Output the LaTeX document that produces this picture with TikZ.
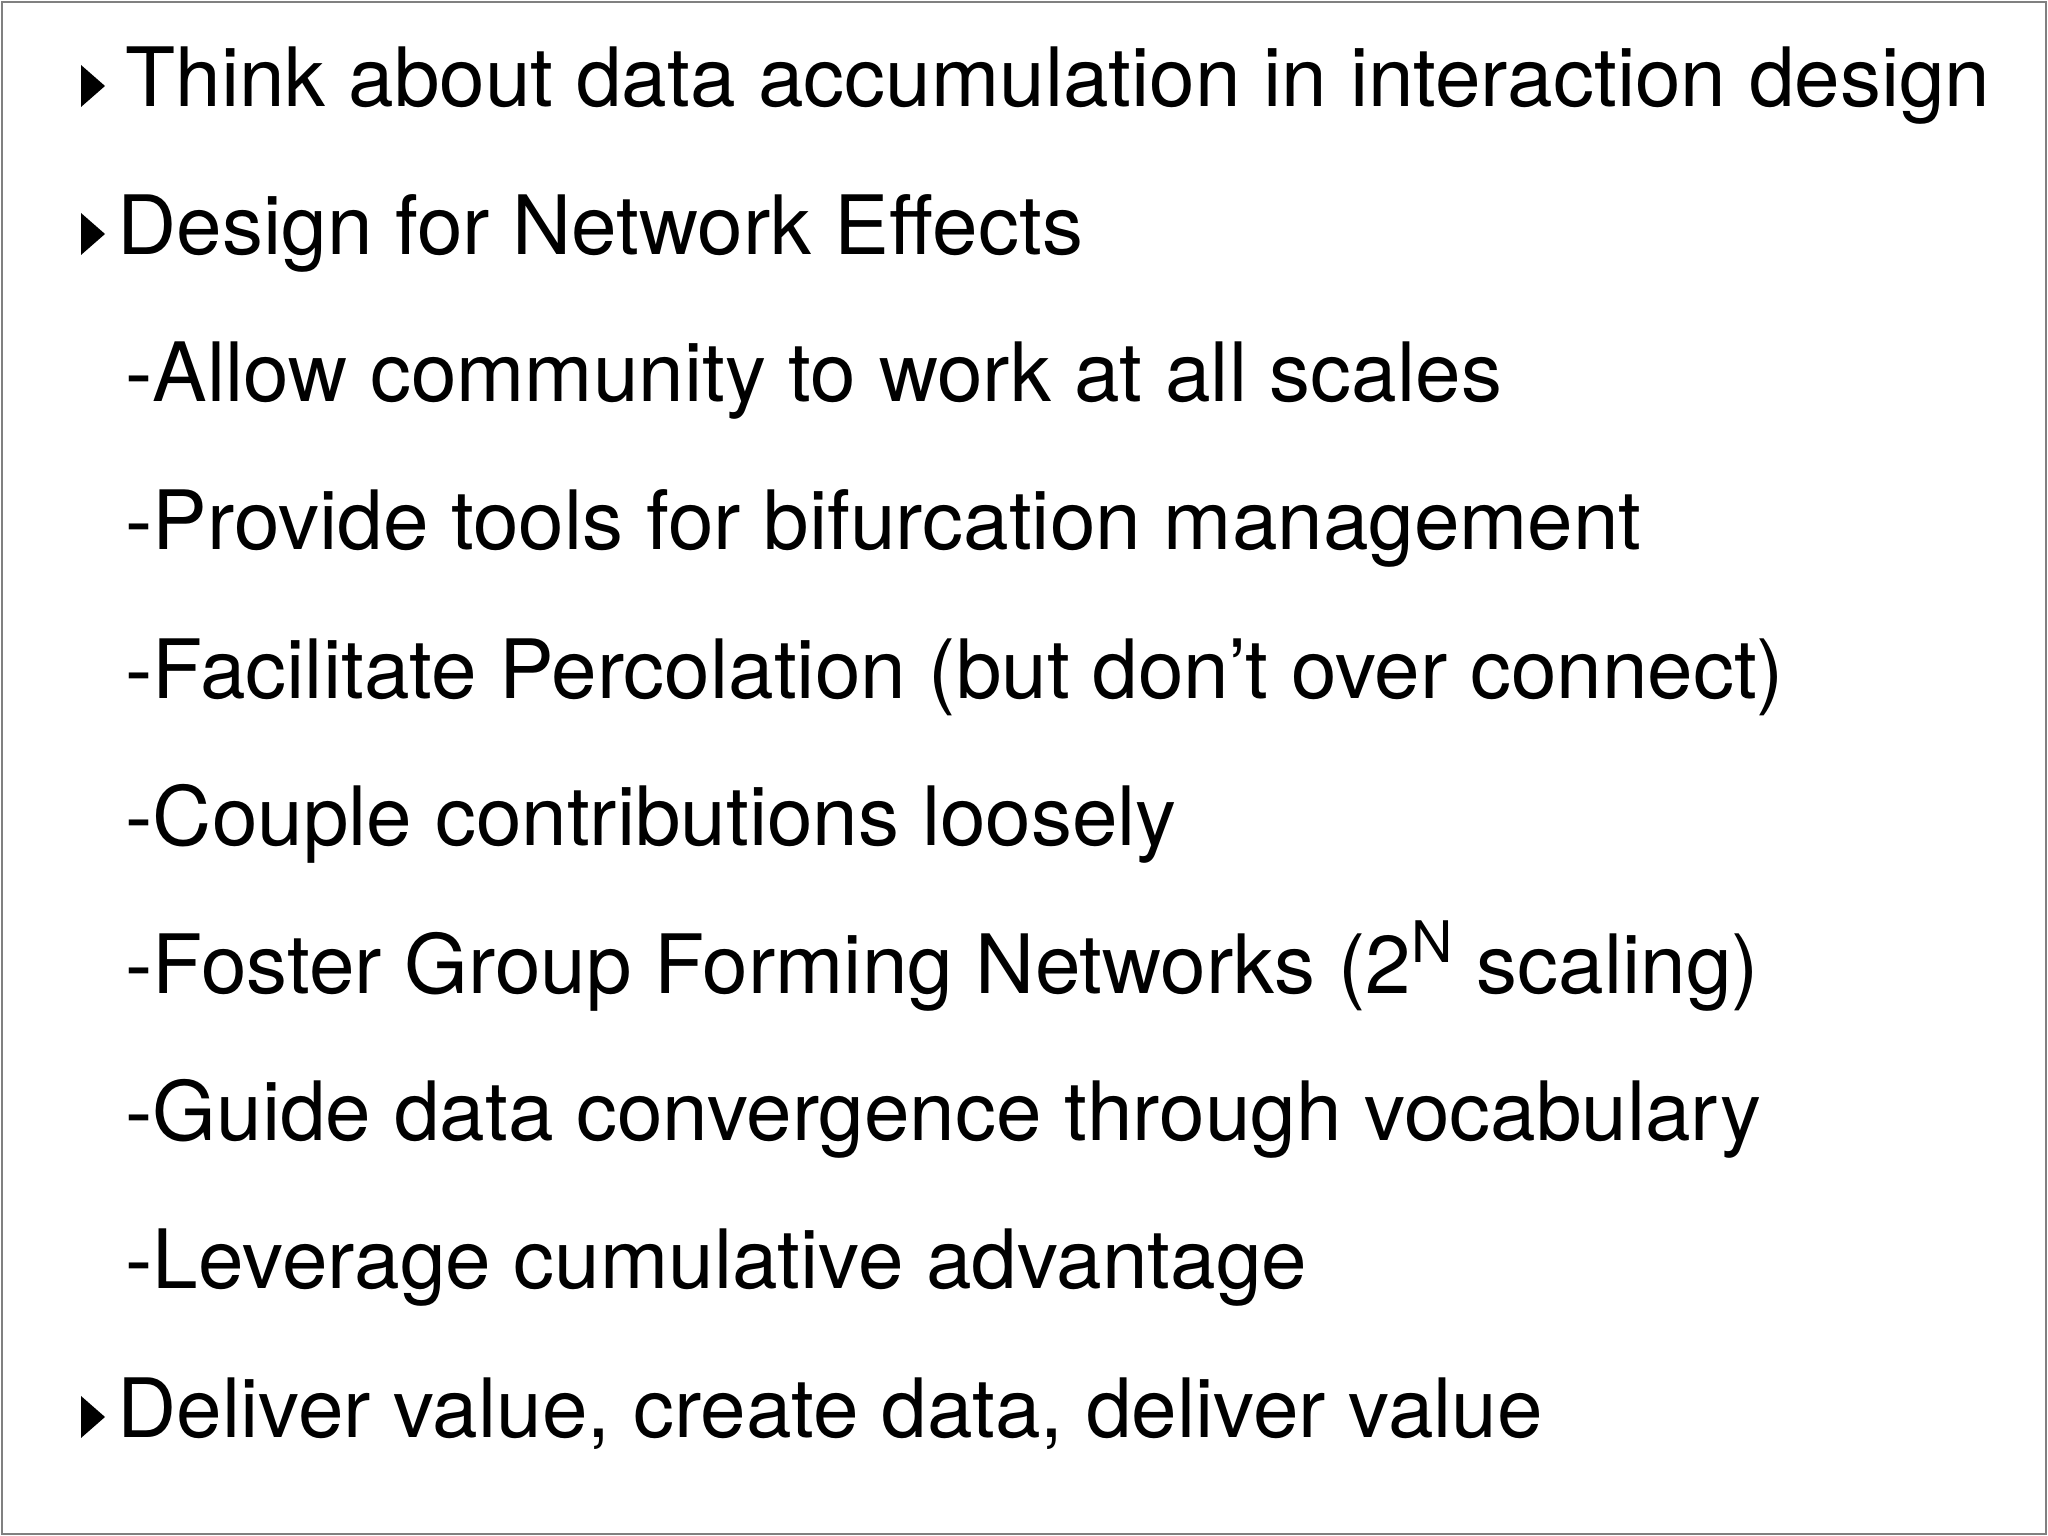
\documentclass[tikz,border=0pt]{standalone}
\usepackage{fontspec}
\setmainfont{TeX Gyre Heros}
\begin{document}
\begin{tikzpicture}[x=1cm,y=1cm,
  txt/.style={anchor=base west,inner sep=0pt,font=\fontsize{23.3pt}{28pt}\selectfont}]
\useasboundingbox (0,0) rectangle (20.48,15.36);
\draw[gray,line width=0.8pt] (0.02,0.02) rectangle (20.46,15.34);
\foreach \n/\b in {1/1.07,2/2.55,10/14.38}{
  \fill ([yshift=-\b cm]0.81,15.36) -- ++(0,0.42) -- ++(0.24,-0.21) -- cycle;}
\node[txt] (l1) at (1.25,{15.36-1.07}) {Think about data accumulation in interaction design};
\node[txt] (l2) at (1.17,{15.36-2.55}) {Design for Network Effects};
\node[txt] (l3) at (1.25,{15.36-4.02}) {-Allow community to work at all scales};
\node[txt] (l4) at (1.25,{15.36-5.50}) {-Provide tools for bifurcation management};
\node[txt] (l5) at (1.25,{15.36-6.99}) {-Facilitate Percolation (but don\char"0027 t over connect)};
\node[txt] (l6) at (1.25,{15.36-8.46}) {-Couple contributions loosely};
\node[txt] (l7) at (1.25,{15.36-9.94}) {-Foster Group Forming Networks (2\textsuperscript{N} scaling)};
\node[txt] (l8) at (1.25,{15.36-11.41}) {-Guide data convergence through vocabulary};
\node[txt] (l9) at (1.25,{15.36-12.89}) {-Leverage cumulative advantage};
\node[txt] (l10) at (1.17,{15.36-14.38}) {Deliver value, create data, deliver value};
\end{tikzpicture}
\end{document}
